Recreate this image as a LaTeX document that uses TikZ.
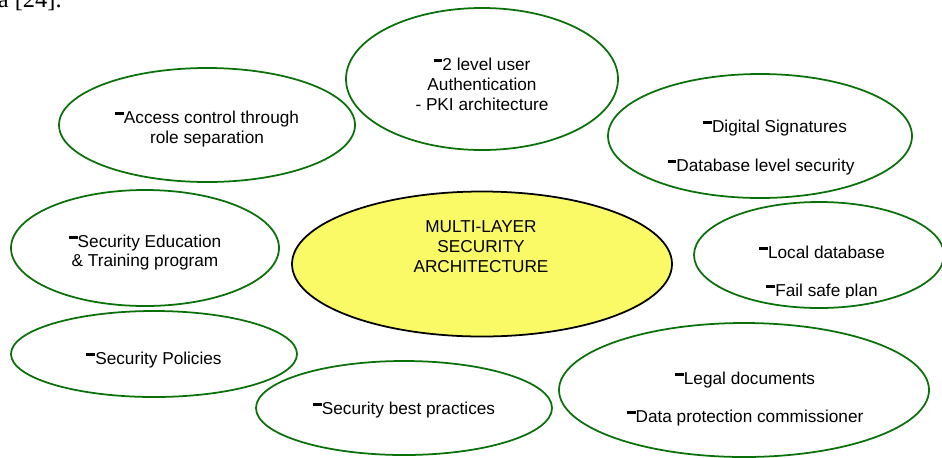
\documentclass[tikz,border=0pt]{standalone}
\usepackage{fontspec}
\setmainfont{Liberation Sans}
\newfontfamily\bodyserif{Liberation Serif}
\usetikzlibrary{shapes.geometric}
\definecolor{leafgreen}{RGB}{10,112,10}
\definecolor{corefill}{RGB}{250,250,102}
% raised bold dash used as a bullet
\newcommand\bdash{\rule[0.48em]{0.52em}{0.17em}}
\tikzset{
  bubble/.style={ellipse, draw=leafgreen, line width=1pt, inner sep=0pt},
  corebubble/.style={ellipse, draw=black, fill=corefill, line width=1pt, inner sep=0pt},
  label/.style={anchor=base, inner sep=0pt, font=\fontsize{9.8}{11.3}\selectfont}
}
\begin{document}
\begin{tikzpicture}[x=0.02cm, y=-0.02cm]
\useasboundingbox (0,0) rectangle (942,457);

% running text of the page above the figure
\node[anchor=base east, inner sep=0pt, font=\bodyserif\fontsize{13.9}{16}\selectfont] (cite) at (62,7) {a [24].};

% outer bubbles
\node[bubble, minimum width=296*0.02cm, minimum height=114*0.02cm] (access) at (207,125) {};
\node[bubble, minimum width=272*0.02cm, minimum height=142*0.02cm] (auth) at (482,79) {};
\node[bubble, minimum width=304*0.02cm, minimum height=124*0.02cm] (sign) at (760,136) {};
\node[bubble, minimum width=268*0.02cm, minimum height=116*0.02cm] (edu) at (145,248) {};
\node[bubble, minimum width=250*0.02cm, minimum height=106*0.02cm] (local) at (819,255) {};
\node[bubble, minimum width=286*0.02cm, minimum height=86*0.02cm] (policy) at (154,354) {};
\node[bubble, minimum width=296*0.02cm, minimum height=94*0.02cm] (best) at (404,408) {};
\node[bubble, minimum width=370*0.02cm, minimum height=134*0.02cm] (legal) at (744,390) {};

% central bubble
\node[corebubble, minimum width=380*0.02cm, minimum height=145*0.02cm] (core) at (482,264) {};

% texts
\node[label] (accessA) at (207,123) {\bdash Access control through};
\node[label] (accessB) at (207,143) {role separation};

\node[label] (authA) at (482,70) {\bdash 2 level user};
\node[label] (authB) at (482,90) {Authentication};
\node[label] (authC) at (482,110) {- PKI architecture};

\node[label] (signA) at (775,132) {\bdash Digital Signatures};
\node[label] (signB) at (761,171) {\bdash Database level security};

\node[label] (eduA) at (145,247) {\bdash Security Education};
\node[label] (eduB) at (145,266) {\& Training program};

\node[label] (coreA) at (481,232) {MULTI-LAYER};
\node[label] (coreB) at (481,252) {SECURITY};
\node[label] (coreC) at (481,272) {ARCHITECTURE};

\node[label] (localA) at (822,258) {\bdash Local database};
\begin{scope}
  \clip (694,200) rectangle (942,297.5);
  \node[label] (localB) at (822,296) {\bdash Fail safe plan};
\end{scope}

\node[label] (policyA) at (154,364) {\bdash Security Policies};
\node[label] (bestA) at (404,414) {\bdash Security best practices};

\node[label] (legalA) at (745,384) {\bdash Legal documents};
\node[label] (legalB) at (745,422) {\bdash Data protection commissioner};
\end{tikzpicture}
\end{document}
